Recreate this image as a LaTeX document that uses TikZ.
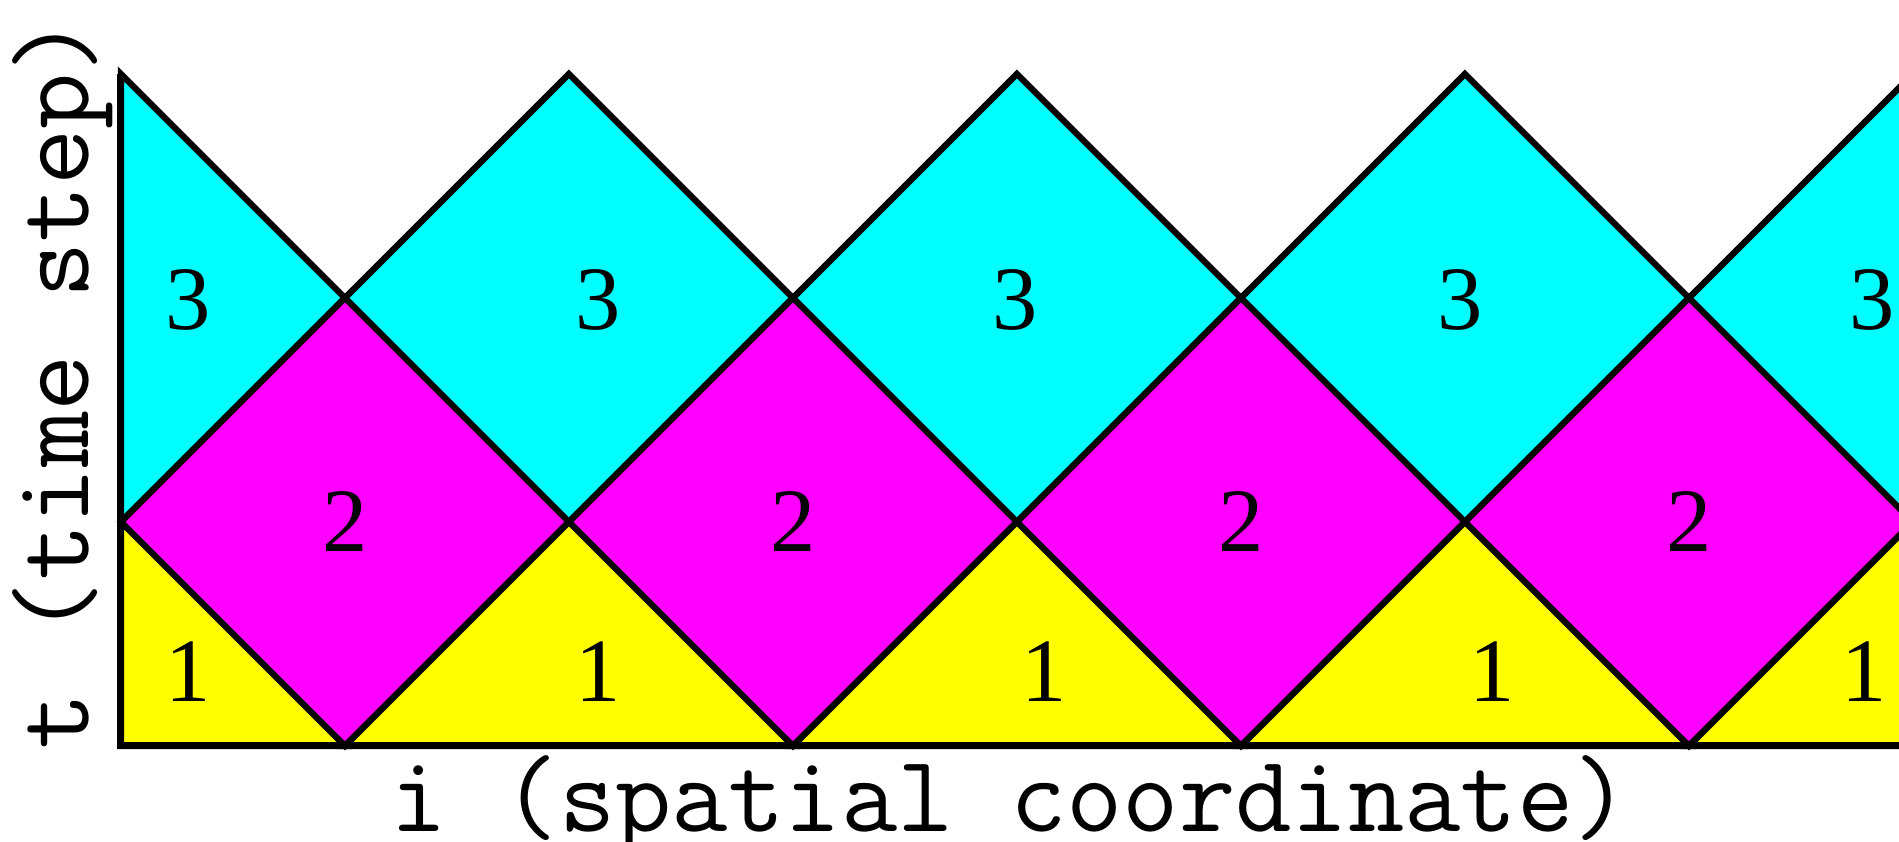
\documentclass[tikz,border=0pt]{standalone}
\usepackage{fontspec}
\setmainfont{Liberation Serif}
\usepackage{xcolor}
\usepackage{tikz}
\definecolor{stepone}{RGB}{255,255,0}
\definecolor{steptwo}{RGB}{255,0,255}
\definecolor{stepthree}{RGB}{0,255,255}

\begin{document}
\begin{tikzpicture}[
    x=2cm, y=2cm,
    cell/.style={draw=black, line width=1.6pt},
    onecell/.style={cell, fill=stepone},
    twocell/.style={cell, fill=steptwo},
    threecell/.style={cell, fill=stepthree},
    axis/.style={draw=black, line width=1.8pt},
    digit/.style={font=\fontsize{23}{27}\selectfont, inner sep=0pt},
    axislabel/.style={font=\ttfamily\fontsize{27.8}{32}\selectfont, inner sep=0pt, anchor=base}
]

% Frame - cut off at the right like the original
\useasboundingbox (-0.540,-0.4286) rectangle (7.938,3.330);
\clip (-0.540,-0.4286) rectangle (7.938,3.330);

% Step 3 - upper diamonds
\filldraw[threecell] (0,1) -- (1,2) -- (0,3) -- cycle;
\filldraw[threecell] (1,2) -- (2,1) -- (3,2) -- (2,3) -- cycle;
\filldraw[threecell] (3,2) -- (4,1) -- (5,2) -- (4,3) -- cycle;
\filldraw[threecell] (5,2) -- (6,1) -- (7,2) -- (6,3) -- cycle;
\filldraw[threecell] (7,2) -- (8,1) -- (9,2) -- (8,3) -- cycle;

% Step 2 - middle diamonds
\filldraw[twocell] (0,1) -- (1,0) -- (2,1) -- (1,2) -- cycle;
\filldraw[twocell] (2,1) -- (3,0) -- (4,1) -- (3,2) -- cycle;
\filldraw[twocell] (4,1) -- (5,0) -- (6,1) -- (5,2) -- cycle;
\filldraw[twocell] (6,1) -- (7,0) -- (8,1) -- (7,2) -- cycle;

% Step 1 - bottom triangles
\filldraw[onecell] (0,0) -- (1,0) -- (0,1) -- cycle;
\filldraw[onecell] (1,0) -- (3,0) -- (2,1) -- cycle;
\filldraw[onecell] (3,0) -- (5,0) -- (4,1) -- cycle;
\filldraw[onecell] (5,0) -- (7,0) -- (6,1) -- cycle;
\filldraw[onecell] (7,0) -- (9,0) -- (8,1) -- cycle;

% Axes
\coordinate (origin) at (0,0);
\coordinate (tend) at (0,3);
\coordinate (iend) at (8.6,0);
\draw[axis] (tend) -- (origin) -- (iend);

% Step numbers
\node[digit] (lthree1) at (0.30,1.99) {3};
\node[digit] (lthree2) at (2.13,1.99) {3};
\node[digit] (lthree3) at (3.99,1.99) {3};
\node[digit] (lthree4) at (5.98,1.99) {3};
\node[digit] (lthree5) at (7.82,1.99) {3};

\node[digit] (ltwo1) at (1,1) {2};
\node[digit] (ltwo2) at (3,1) {2};
\node[digit] (ltwo3) at (5,1) {2};
\node[digit] (ltwo4) at (7,1) {2};

\node[digit] (lone1) at (0.30,0.33) {1};
\node[digit] (lone2) at (2.13,0.33) {1};
\node[digit] (lone3) at (4.12,0.33) {1};
\node[digit] (lone4) at (6.12,0.33) {1};
\node[digit] (lone5) at (7.78,0.33) {1};

% Axis labels
\node[axislabel] (ilabel) at (3.97,-0.384) {i (spatial coordinate)};
\node[axislabel, rotate=90] (tlabel) at (-0.143,1.62) {t (time step)};

\end{tikzpicture}
\end{document}
